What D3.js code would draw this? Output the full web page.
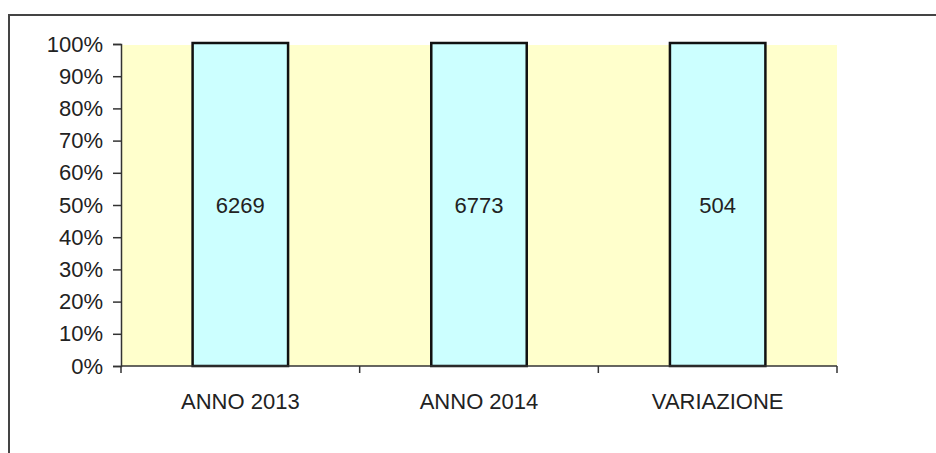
<!DOCTYPE html>
<html>
<head>
<meta charset="utf-8">
<script src="https://cdn.jsdelivr.net/npm/d3@7"></script>
<style>
  body { margin: 0; background: #fff; }
  svg { display: block; font-family: "Liberation Sans", Arial, sans-serif; }
</style>
</head>
<body>
<div id="chart"></div>
<script>
var categories = ['ANNO 2013', 'ANNO 2014', 'VARIAZIONE'];
var values = [6269, 6773, 504];
var yTicks = [0, 0.1, 0.2, 0.3, 0.4, 0.5, 0.6, 0.7, 0.8, 0.9, 1];

var width = 936, height = 453;
var plot = { left: 121, right: 837, top: 44, bottom: 366 };

var svg = d3.select('#chart').append('svg')
    .attr('width', width)
    .attr('height', height);

// outer frame (runs off the right and bottom edges)
svg.append('rect')
    .attr('x', 9).attr('y', 15)
    .attr('width', 960).attr('height', 480)
    .attr('fill', 'none')
    .attr('stroke', '#444')
    .attr('stroke-width', 2);

var x = d3.scaleBand()
    .domain(categories)
    .range([plot.left, plot.right])
    .paddingInner(0.6)
    .paddingOuter(0.3);

var y = d3.scaleLinear()
    .domain([0, 1])
    .range([plot.bottom, plot.top]);

// plot background
svg.append('rect')
    .attr('x', plot.left).attr('y', y(1) + 1)
    .attr('width', plot.right - plot.left)
    .attr('height', plot.bottom - y(1) - 1)
    .attr('fill', '#FFFFCC');

// each category is a single 100% stacked segment
var shares = values.map(function(v){ return v / v; });

svg.append('g').selectAll('rect')
    .data(categories)
    .enter().append('rect')
        .attr('x', function(d){ return x(d); })
        .attr('y', function(d, i){ return y(shares[i]) - 1; })
        .attr('width', x.bandwidth())
        .attr('height', function(d, i){ return y(0) - y(shares[i]) + 1; })
        .attr('fill', '#CCFFFF')
        .attr('stroke', '#111')
        .attr('stroke-width', 2.5);

svg.append('g').selectAll('text')
    .data(categories)
    .enter().append('text')
        .attr('x', function(d){ return x(d) + x.bandwidth() / 2; })
        .attr('y', function(d, i){ return y(shares[i] / 2) + 8; })
        .attr('text-anchor', 'middle')
        .attr('font-size', 22)
        .attr('fill', '#222')
        .text(function(d, i){ return values[i]; });

// y axis
var yAxis = svg.append('g')
    .attr('transform', 'translate(' + plot.left + ',0)')
    .call(d3.axisLeft(y).tickValues(yTicks).tickFormat(d3.format('.0%')).tickSize(8).tickPadding(10));
yAxis.select('.domain').attr('stroke', '#333').attr('stroke-width', 1.5);
yAxis.selectAll('.tick line').attr('stroke', '#333').attr('stroke-width', 1.5);
yAxis.selectAll('text')
    .attr('font-size', 22)
    .attr('font-family', '"Liberation Sans", Arial, sans-serif')
    .attr('fill', '#222');

// x axis: line with ticks at category boundaries
var xg = svg.append('g');
xg.append('line')
    .attr('x1', plot.left).attr('x2', plot.right)
    .attr('y1', plot.bottom).attr('y2', plot.bottom)
    .attr('stroke', '#333').attr('stroke-width', 1.5);

var step = x.step();
var bounds = d3.range(categories.length + 1).map(function(i){ return plot.left + i * step; });
xg.selectAll('line.b')
    .data(bounds)
    .enter().append('line')
        .attr('class', 'b')
        .attr('x1', function(d){ return d; }).attr('x2', function(d){ return d; })
        .attr('y1', plot.bottom).attr('y2', plot.bottom + 7)
        .attr('stroke', '#333').attr('stroke-width', 1.5);

xg.selectAll('text')
    .data(categories)
    .enter().append('text')
        .attr('x', function(d){ return x(d) + x.bandwidth() / 2; })
        .attr('y', 409)
        .attr('text-anchor', 'middle')
        .attr('font-size', 22)
        .attr('fill', '#222')
        .text(function(d){ return d; });
</script>
</body>
</html>
